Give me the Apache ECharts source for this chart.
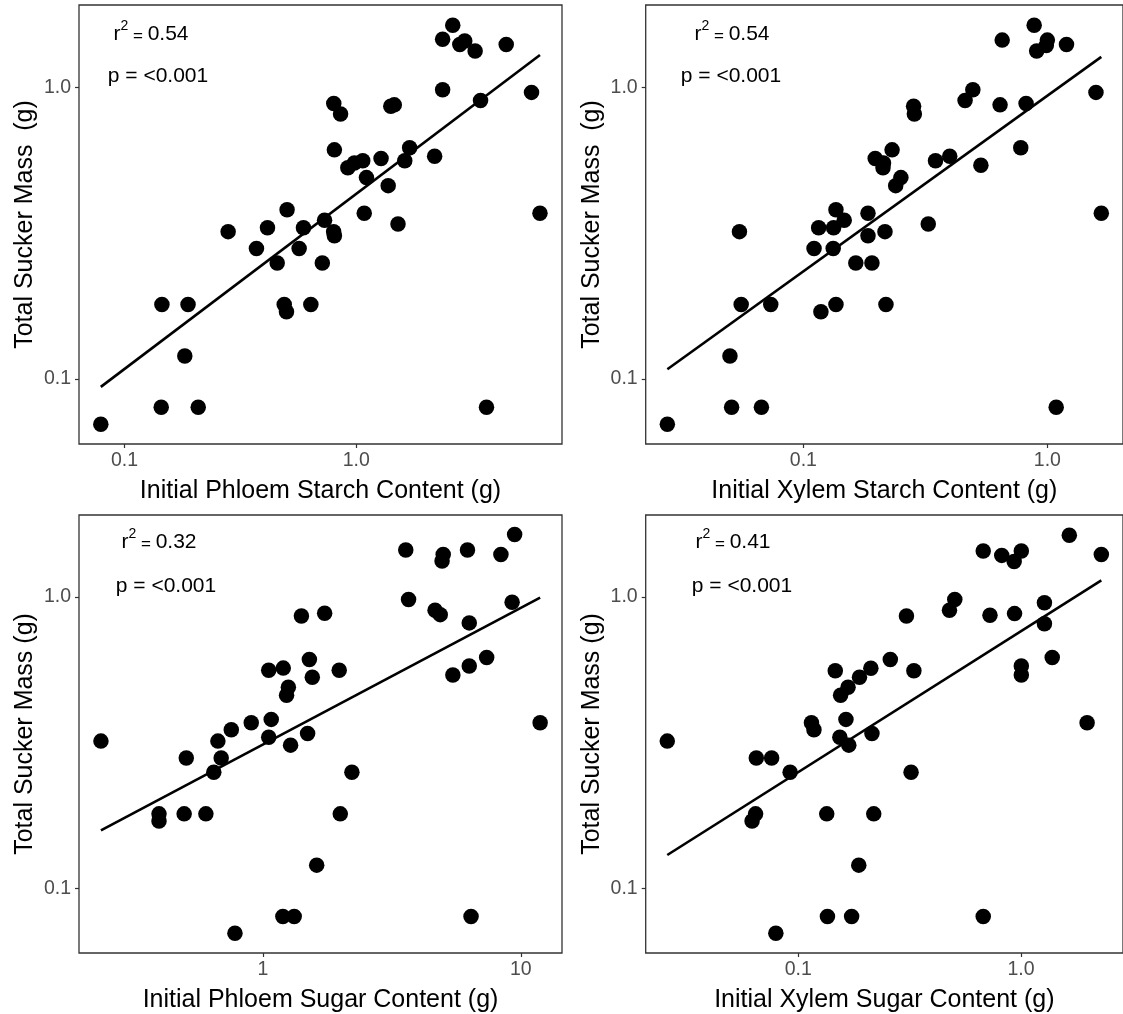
<!DOCTYPE html>
<html>
<head>
<meta charset="utf-8">
<script src="https://cdn.jsdelivr.net/npm/echarts@6/dist/echarts.min.js"></script>
<style>
  html, body { margin: 0; padding: 0; background: #ffffff; }
  #chart { width: 1123px; height: 1014px; }
</style>
</head>
<body>
<div id="chart"></div>
<script>
// Total sucker mass (g) against four initial carbohydrate pools (g), log-log.
const phloemStarchX = [2.61, 2.36, 2.80, 2.94, 3.26, 4.44, 2.36, 3.44, 5.71, 0.80, 0.856, 1.41, 1.46, 0.805, 1.70, 1.62, 2.18, 1.28, 0.92, 0.982, 1.067, 1.107, 1.374, 0.503, 1.083, 1.515, 6.21, 0.73, 0.28, 0.414, 0.592, 0.799, 0.805, 0.371, 0.567, 0.456, 0.714, 0.145, 0.188, 0.489, 0.50, 0.637, 0.182, 0.144, 0.208, 3.65, 0.079];
const phloemStarchY = [1.63, 1.46, 1.40, 1.44, 1.33, 1.40, 0.98, 0.90, 0.96, 0.88, 0.81, 0.86, 0.87, 0.61, 0.62, 0.56, 0.58, 0.57, 0.53, 0.55, 0.56, 0.49, 0.46, 0.38, 0.37, 0.34, 0.37, 0.35, 0.32, 0.33, 0.33, 0.32, 0.31, 0.28, 0.28, 0.25, 0.25, 0.18, 0.18, 0.18, 0.17, 0.18, 0.12, 0.08, 0.08, 0.08, 0.07];

const xylemStarchX = [0.883, 0.653, 1.0, 0.99, 0.904, 1.198, 0.495, 0.46, 0.64, 0.818, 1.582, 0.283, 0.285, 0.231, 0.778, 0.398, 0.348, 0.197, 0.213, 0.212, 0.534, 0.251, 0.239, 0.136, 0.184, 0.147, 0.325, 1.664, 0.1155, 0.133, 0.0547, 0.216, 0.184, 0.1106, 0.1325, 0.164, 0.191, 0.0556, 0.0735, 0.118, 0.136, 0.218, 0.050, 0.0508, 0.0673, 1.087, 0.0277];
const xylemStarchY = [1.63, 1.45, 1.45, 1.39, 1.33, 1.40, 0.98, 0.90, 0.87, 0.88, 0.96, 0.86, 0.81, 0.61, 0.62, 0.58, 0.56, 0.57, 0.55, 0.53, 0.54, 0.49, 0.46, 0.38, 0.37, 0.35, 0.34, 0.37, 0.33, 0.33, 0.32, 0.32, 0.31, 0.28, 0.28, 0.25, 0.25, 0.18, 0.18, 0.17, 0.18, 0.18, 0.12, 0.08, 0.08, 0.08, 0.07];

const phloemSugarX = [9.46, 3.58, 6.21, 5.0, 4.95, 8.37, 3.67, 9.25, 4.65, 4.87, 1.41, 1.735, 6.31, 7.37, 1.514, 6.31, 1.053, 1.199, 1.976, 1.554, 5.45, 1.255, 1.235, 0.901, 1.077, 11.88, 0.754, 1.053, 1.49, 0.2355, 0.669, 1.28, 0.5045, 0.689, 0.645, 2.213, 0.3955, 0.3955, 0.495, 0.601, 1.995, 1.616, 1.195, 1.322, 6.41, 0.779];
const phloemSugarY = [1.64, 1.45, 1.45, 1.40, 1.33, 1.40, 0.98, 0.96, 0.90, 0.87, 0.86, 0.88, 0.815, 0.62, 0.61, 0.58, 0.56, 0.57, 0.56, 0.53, 0.54, 0.49, 0.46, 0.37, 0.38, 0.37, 0.35, 0.33, 0.34, 0.32, 0.32, 0.31, 0.28, 0.28, 0.25, 0.25, 0.18, 0.17, 0.18, 0.18, 0.18, 0.12, 0.08, 0.08, 0.08, 0.07];

const xylemSugarX = [1.649, 0.677, 1.004, 0.82, 0.932, 2.296, 0.5045, 0.4775, 1.275, 0.726, 0.936, 0.306, 1.275, 1.382, 0.259, 1.004, 1.004, 0.1466, 0.2118, 0.3305, 0.1883, 0.1673, 0.1549, 0.1146, 0.1176, 0.1637, 1.982, 0.2142, 0.1537, 0.1686, 0.0258, 0.0648, 0.0759, 0.0919, 0.321, 0.0643, 0.062, 0.1342, 0.2182, 0.1869, 0.1352, 0.1736, 0.677, 0.0793];
const xylemSugarY = [1.63, 1.44, 1.44, 1.39, 1.325, 1.40, 0.98, 0.90, 0.956, 0.866, 0.877, 0.86, 0.81, 0.62, 0.61, 0.58, 0.54, 0.558, 0.569, 0.558, 0.53, 0.49, 0.46, 0.37, 0.35, 0.38, 0.37, 0.34, 0.33, 0.31, 0.32, 0.28, 0.28, 0.25, 0.25, 0.18, 0.17, 0.18, 0.18, 0.12, 0.08, 0.08, 0.08, 0.07];

// Least-squares fit lines (log-log), end points at the data range
const phloemStarchFitX = [0.079, 6.21];
const phloemStarchFitY = [0.094, 1.29];
const xylemStarchFitX = [0.0277, 1.664];
const xylemStarchFitY = [0.108, 1.27];
const phloemSugarFitX = [0.2355, 11.88];
const phloemSugarFitY = [0.158, 0.995];
const xylemSugarFitX = [0.0258, 2.296];
const xylemSugarFitY = [0.130, 1.14];

const r2Labels = ['0.54', '0.54', '0.32', '0.41'];
const pLabels = ['<0.001', '<0.001', '<0.001', '<0.001'];

const xTitles = [
  'Initial Phloem Starch Content (g)',
  'Initial Xylem Starch Content (g)',
  'Initial Phloem Sugar Content (g)',
  'Initial Xylem Sugar Content (g)'
];
const yTitles = ['Total Sucker Mass  (g)', 'Total Sucker Mass  (g)', 'Total Sucker Mass (g)', 'Total Sucker Mass (g)'];

const yTickValues = [0.1, 1];
const yTickLabels = ['0.1', '1.0'];
const xTickValues = [[0.1, 1], [0.1, 1], [1, 10], [0.1, 1]];
const xTickLabels = [['0.1', '1.0'], ['0.1', '1.0'], ['1', '10'], ['0.1', '1.0']];

// axis limits: data range on log scale plus 5% each side
const xLimits = [[0.0636, 7.73], [0.02258, 2.042], [0.1936, 14.44], [0.02064, 2.873]];
const yLimits = [0.0599, 1.913];

const FONT = '"Liberation Sans", Arial, Helvetica, sans-serif';

const panels = [
  { x: phloemStarchX, y: phloemStarchY, fx: phloemStarchFitX, fy: phloemStarchFitY },
  { x: xylemStarchX, y: xylemStarchY, fx: xylemStarchFitX, fy: xylemStarchFitY },
  { x: phloemSugarX, y: phloemSugarY, fx: phloemSugarFitX, fy: phloemSugarFitY },
  { x: xylemSugarX, y: xylemSugarY, fx: xylemSugarFitX, fy: xylemSugarFitY }
];

const gridBoxes = [
  { left: 79, top: 5, width: 483, height: 439 },
  { left: 645.7, top: 5, width: 483, height: 439 },
  { left: 79, top: 515, width: 483, height: 439 },
  { left: 645.7, top: 515, width: 483, height: 439 }
];

// annotation anchor points (pixel centres) for r^2 and p text
const notePos = [
  { r: [151, 32], p: [158, 76] },
  { r: [732, 32], p: [731, 76] },
  { r: [159, 540], p: [166, 586] },
  { r: [733, 540], p: [742, 586] }
];

function tickFormatter(values, labels) {
  return function (v) {
    for (let i = 0; i < values.length; i++) {
      if (Math.abs(Math.log10(v) - Math.log10(values[i])) < 1e-6) return labels[i];
    }
    return '';
  };
}

const grid = gridBoxes.map(b => Object.assign({
  show: true,
  borderColor: '#333333',
  borderWidth: 1.3,
  backgroundColor: 'transparent',
  containLabel: false
}, b));

const xAxis = panels.map((p, i) => ({
  type: 'log',
  logBase: 10,
  gridIndex: i,
  min: xLimits[i][0],
  max: xLimits[i][1],
  name: xTitles[i],
  nameLocation: 'middle',
  nameGap: 35,
  nameTextStyle: { fontFamily: FONT, fontSize: 25, color: '#000000' },
  axisLine: { show: false },
  axisTick: { show: true, length: 4, lineStyle: { color: '#333333', width: 1.2 }, customValues: xTickValues[i] },
  axisLabel: {
    show: true, margin: 7, fontFamily: FONT, fontSize: 19.5, color: '#4D4D4D',
    customValues: xTickValues[i],
    formatter: tickFormatter(xTickValues[i], xTickLabels[i])
  },
  splitLine: { show: false },
  minorTick: { show: false },
  minorSplitLine: { show: false }
}));

const yAxis = panels.map((p, i) => ({
  type: 'log',
  logBase: 10,
  gridIndex: i,
  min: yLimits[0],
  max: yLimits[1],
  name: yTitles[i],
  nameLocation: 'middle',
  nameGap: 41,
  nameTextStyle: { fontFamily: FONT, fontSize: 25, color: '#000000' },
  axisLine: { show: false },
  axisTick: { show: true, length: 4, lineStyle: { color: '#333333', width: 1.2 }, customValues: yTickValues },
  axisLabel: {
    show: true, margin: 8, fontFamily: FONT, fontSize: 19.5, color: '#4D4D4D',
    customValues: yTickValues,
    formatter: tickFormatter(yTickValues, yTickLabels)
  },
  splitLine: { show: false },
  minorTick: { show: false },
  minorSplitLine: { show: false }
}));

const series = [];
panels.forEach((p, i) => {
  series.push({
    type: 'scatter',
    xAxisIndex: i,
    yAxisIndex: i,
    symbol: 'circle',
    symbolSize: 15.5,
    itemStyle: { color: '#000000', opacity: 1 },
    data: p.x.map((v, k) => [v, p.y[k]]),
    silent: true,
    z: 2
  });
  series.push({
    type: 'line',
    xAxisIndex: i,
    yAxisIndex: i,
    symbol: 'none',
    lineStyle: { color: '#000000', width: 2.6 },
    data: p.fx.map((v, k) => [v, p.fy[k]]),
    silent: true,
    z: 3
  });
});

const graphic = [];
notePos.forEach((pos, i) => {
  graphic.push({
    type: 'text',
    x: pos.r[0],
    y: pos.r[1],
    silent: true,
    style: {
      text: '{m|r}{s|2}{e| = }{m|' + r2Labels[i] + '}',
      align: 'center',
      verticalAlign: 'middle',
      rich: {
        m: { fontFamily: FONT, fontSize: 21, lineHeight: 26, fill: '#000000', verticalAlign: 'bottom' },
        e: { fontFamily: FONT, fontSize: 17, lineHeight: 24, fill: '#000000', verticalAlign: 'bottom' },
        s: { fontFamily: FONT, fontSize: 14, lineHeight: 14, fill: '#000000', verticalAlign: 'top' }
      }
    }
  });
  graphic.push({
    type: 'text',
    x: pos.p[0],
    y: pos.p[1],
    silent: true,
    style: {
      text: 'p = ' + pLabels[i],
      align: 'center',
      verticalAlign: 'middle',
      fontFamily: FONT,
      fontSize: 21,
      fill: '#000000'
    }
  });
});

const chart = echarts.init(document.getElementById('chart'), null, { renderer: 'canvas' });
chart.setOption({
  backgroundColor: '#ffffff',
  animation: false,
  grid: grid,
  xAxis: xAxis,
  yAxis: yAxis,
  series: series,
  graphic: graphic
});
</script>
</body>
</html>
